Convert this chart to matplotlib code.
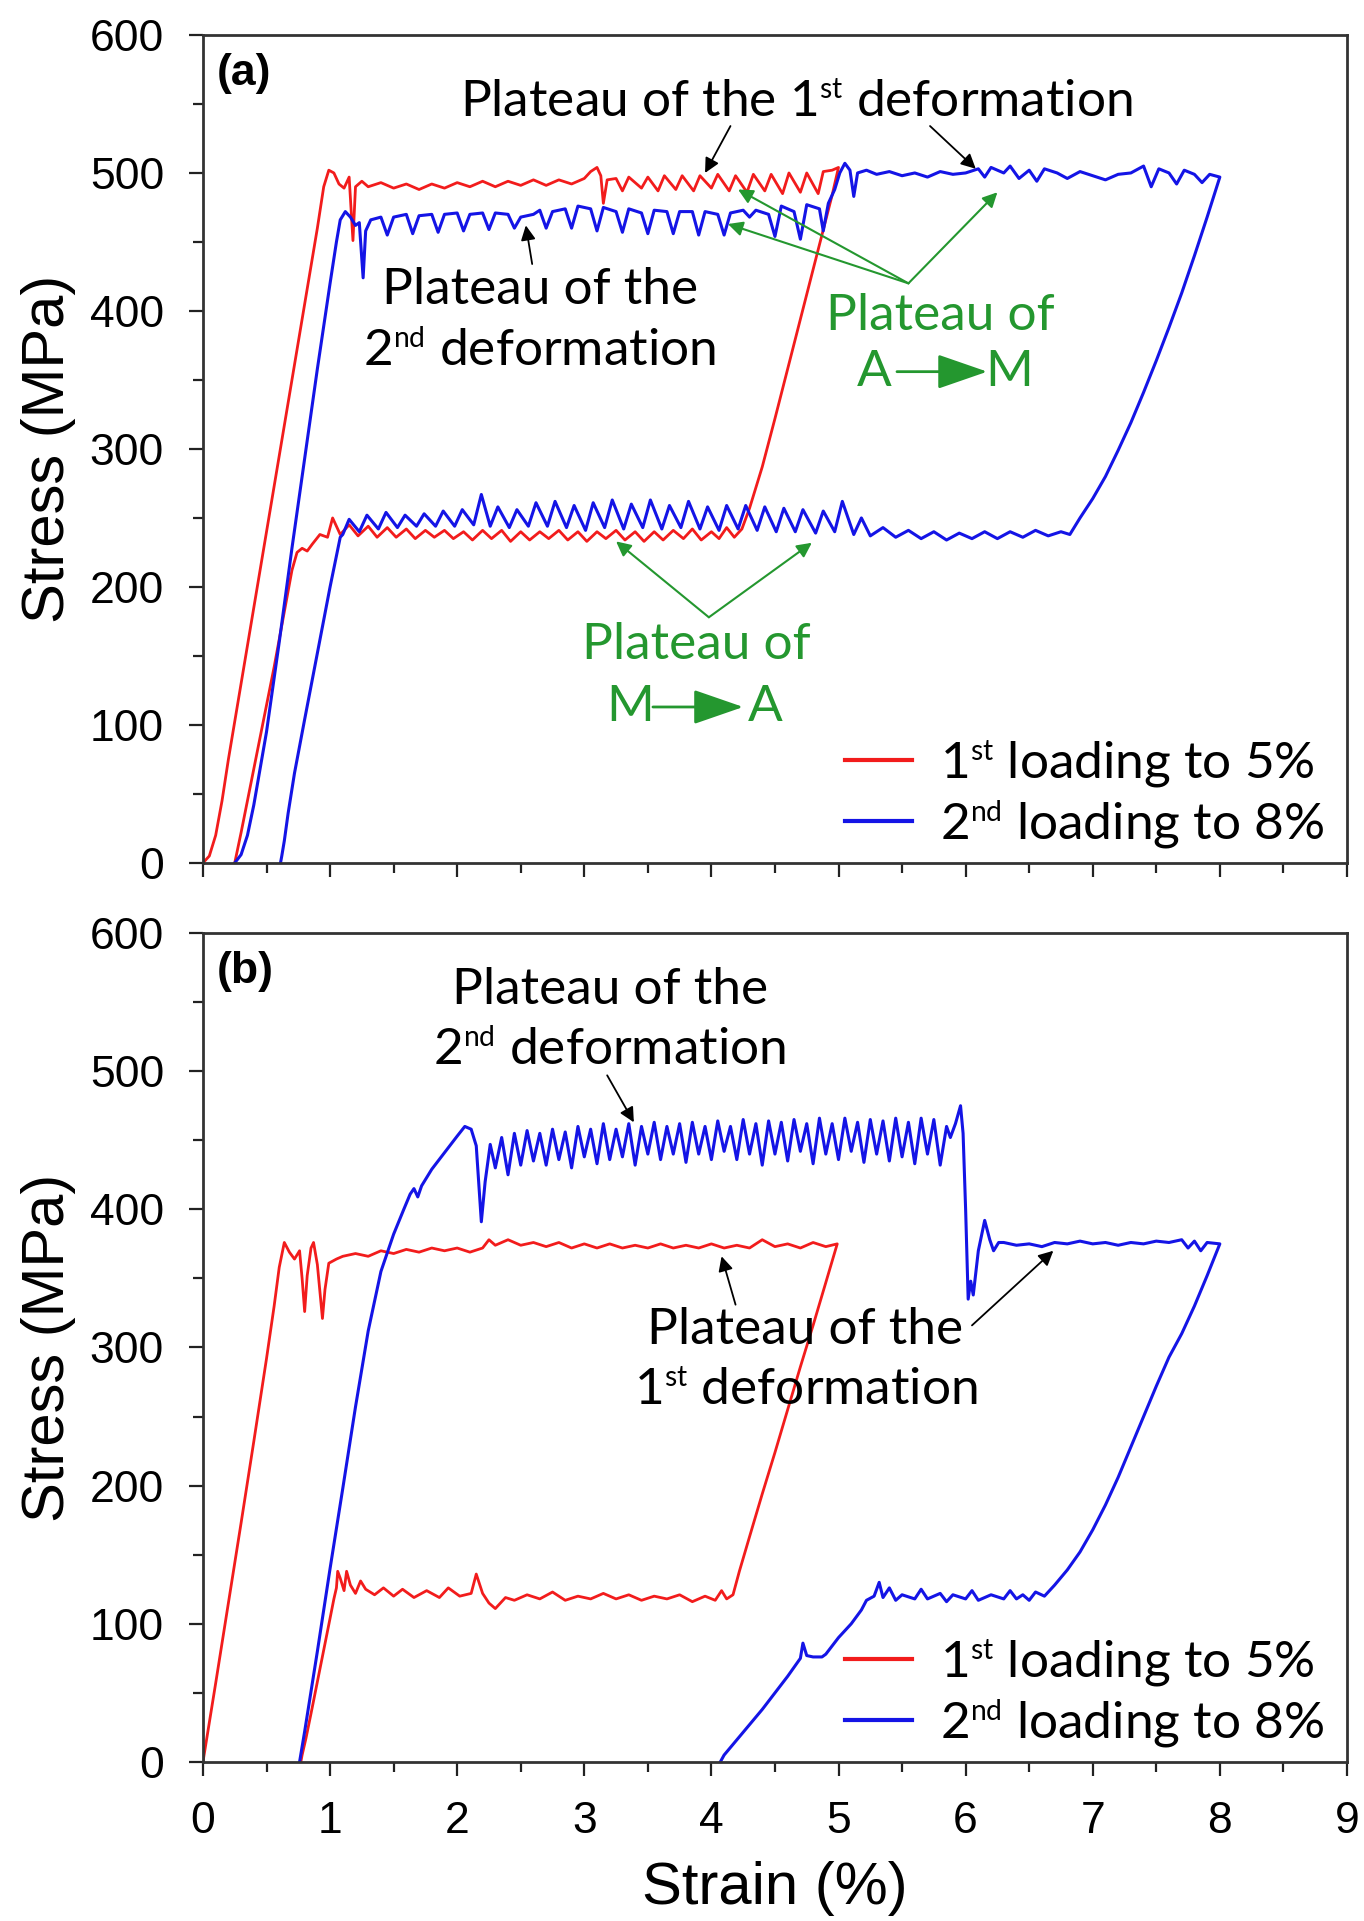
import matplotlib
matplotlib.use("Agg")
import matplotlib.pyplot as plt
from matplotlib.lines import Line2D
from matplotlib.ticker import MultipleLocator

# smaller superscripts ("1st", "2nd") like the original figure
try:
    import matplotlib._mathtext as _mt
    _mt.SHRINK_FACTOR = 0.55
except Exception:
    pass

# ---- panel (a): 1st loading to 5% (red) ----
a_red_strain = [0.00, 0.05, 0.10, 0.15, 0.20, 0.30, 0.40, 0.50, 0.60, 0.70, 0.80, 0.90, 0.95, 0.99, 1.03, 1.07,
                1.11, 1.15, 1.18, 1.20, 1.25,
                1.30, 1.40, 1.50, 1.60, 1.70, 1.80, 1.90, 2.00, 2.10, 2.20, 2.30, 2.40, 2.50, 2.60, 2.70, 2.80,
                2.90, 3.00, 3.05, 3.10, 3.13, 3.15, 3.18,
                3.25, 3.30, 3.35, 3.45, 3.50, 3.58, 3.63, 3.72, 3.77, 3.86, 3.91, 4.00, 4.05, 4.14, 4.19, 4.28,
                4.33, 4.42, 4.47, 4.56, 4.61, 4.70, 4.75, 4.84, 4.88, 4.95, 5.00,
                4.95, 4.90, 4.80, 4.70, 4.60, 4.50, 4.40, 4.30, 4.24,
                4.18, 4.12, 4.06, 4.00, 3.92, 3.85, 3.78, 3.70, 3.62, 3.55, 3.47, 3.40, 3.32, 3.25, 3.17, 3.10,
                3.02, 2.95, 2.87, 2.80, 2.72, 2.65, 2.57, 2.50, 2.42, 2.35, 2.27, 2.20, 2.12, 2.05, 1.97, 1.90,
                1.82, 1.75, 1.67, 1.60, 1.52, 1.45, 1.37, 1.30, 1.22, 1.15, 1.08, 1.02, 0.98, 0.92, 0.86, 0.82,
                0.78, 0.74,
                0.70, 0.64, 0.56, 0.48, 0.40, 0.34, 0.30, 0.27, 0.25]
a_red_stress = [0, 5, 20, 45, 75, 130, 185, 240, 295, 350, 405, 460, 490, 502, 500, 492,
                489, 497, 451, 490, 494,
                490, 493, 489, 492, 488, 492, 489, 493, 490, 494, 490, 494, 491, 495, 491, 495,
                492, 496, 501, 504, 498, 478, 495,
                496, 487, 497, 489, 497, 487, 498, 488, 498, 487, 498, 489, 499, 487, 498, 486,
                499, 487, 499, 485, 500, 486, 500, 485, 501, 502, 504,
                484, 466, 430, 394, 358, 322, 287, 257, 242,
                236, 243, 235, 240, 234, 242, 235, 241, 234, 240, 233, 240, 234, 241, 235, 240,
                233, 240, 234, 241, 235, 240, 234, 240, 233, 241, 235, 241, 234, 240, 235, 241,
                236, 241, 235, 242, 236, 243, 236, 244, 237, 245, 238, 250, 236, 238, 231, 226,
                228, 225,
                212, 182, 142, 105, 68, 40, 22, 9, 0]

# ---- panel (a): 2nd loading to 8% (blue) ----
a_blue_strain = [0.25, 0.30, 0.35, 0.40, 0.50, 0.60, 0.70, 0.80, 0.90, 1.00, 1.05, 1.08, 1.12, 1.16, 1.20, 1.23,
                 1.26, 1.28, 1.32,
                 1.40, 1.45, 1.50, 1.60, 1.65, 1.70, 1.80, 1.85, 1.90, 2.00, 2.05, 2.10, 2.20, 2.25, 2.30, 2.40,
                 2.45, 2.50, 2.60, 2.65, 2.70, 2.75, 2.85, 2.90, 2.95, 3.05, 3.10, 3.15, 3.25, 3.30, 3.35, 3.45,
                 3.50, 3.55, 3.65, 3.70, 3.75, 3.85, 3.90, 3.95, 4.05, 4.10, 4.15, 4.25, 4.30, 4.35, 4.45, 4.50,
                 4.55, 4.65, 4.70, 4.75, 4.85, 4.88, 4.92, 4.97, 5.01, 5.05, 5.09, 5.12, 5.15,
                 5.22, 5.30, 5.40, 5.50, 5.60, 5.70, 5.80, 5.90, 6.00, 6.10, 6.15, 6.20, 6.30, 6.35, 6.42, 6.50,
                 6.56, 6.62, 6.72, 6.80, 6.90, 7.00, 7.10, 7.20, 7.30, 7.40, 7.46, 7.52, 7.60, 7.66, 7.72, 7.80,
                 7.86, 7.92, 8.00,
                 7.90, 7.80, 7.70, 7.60, 7.50, 7.40, 7.30, 7.20, 7.10, 7.00, 6.90, 6.82,
                 6.75, 6.65, 6.55, 6.45, 6.35, 6.25, 6.15, 6.05, 5.95, 5.85, 5.75, 5.65, 5.55, 5.45, 5.35, 5.25,
                 5.18, 5.12, 5.03, 4.97, 4.88, 4.82, 4.72, 4.66, 4.57, 4.51, 4.42, 4.36, 4.27, 4.21, 4.12, 4.06,
                 3.97, 3.91, 3.82, 3.76, 3.67, 3.61, 3.52, 3.46, 3.37, 3.31, 3.22, 3.16, 3.07, 3.01, 2.92, 2.86,
                 2.77, 2.71, 2.62, 2.56, 2.47, 2.41, 2.32, 2.26, 2.19, 2.13, 2.04, 1.98, 1.89, 1.83, 1.74, 1.68,
                 1.59, 1.53, 1.44, 1.38, 1.29, 1.23, 1.15, 1.10, 1.08,
                 1.00, 0.90, 0.80, 0.72, 0.67, 0.64, 0.62, 0.61]
a_blue_stress = [0, 6, 20, 42, 95, 160, 228, 293, 358, 420, 450, 466, 472, 468, 462, 464,
                 424, 458, 466,
                 468, 455, 468, 470, 456, 469, 470, 457, 470, 471, 458, 470, 471, 459, 471, 470,
                 460, 468, 470, 473, 460, 472, 474, 460, 476, 474, 458, 475, 472, 457, 474, 471,
                 456, 473, 472, 456, 472, 472, 455, 472, 470, 455, 471, 473, 468, 473, 470, 454,
                 476, 472, 452, 477, 474, 458, 478, 488, 500, 507, 502, 483, 500,
                 502, 499, 501, 498, 500, 497, 501, 499, 500, 503, 497, 504, 500, 505, 496, 502,
                 494, 503, 500, 496, 501, 498, 495, 499, 500, 505, 490, 503, 500, 492, 502, 499,
                 493, 499, 497,
                 468, 440, 413, 388, 364, 341, 319, 299, 280, 264, 250, 238,
                 240, 237, 241, 236, 240, 235, 240, 235, 239, 234, 240, 235, 241, 236, 243, 237,
                 250, 238, 262, 240, 255, 239, 256, 240, 257, 240, 258, 241, 259, 242, 259, 241,
                 258, 242, 262, 243, 259, 242, 263, 243, 260, 242, 263, 243, 261, 241, 259, 243,
                 262, 244, 261, 244, 256, 243, 258, 244, 267, 245, 256, 244, 255, 244, 253, 244,
                 252, 243, 254, 242, 252, 240, 249, 238, 236,
                 200, 152, 104, 65, 36, 16, 5, 0]

# ---- panel (b): 1st loading to 5% (red) ----
b_red_strain = [0.00, 0.10, 0.20, 0.30, 0.40, 0.50, 0.56, 0.60, 0.64, 0.68, 0.72, 0.76, 0.78, 0.80, 0.82, 0.85,
                0.87, 0.90, 0.94, 0.96, 0.99, 1.05,
                1.10, 1.20, 1.30, 1.40, 1.50, 1.60, 1.70, 1.80, 1.90, 2.00, 2.10, 2.20, 2.25, 2.30, 2.40, 2.50,
                2.60, 2.70, 2.80, 2.90, 3.00, 3.10, 3.20, 3.30, 3.40, 3.50, 3.60, 3.70, 3.80, 3.90, 4.00, 4.10,
                4.20, 4.30, 4.40, 4.50, 4.60, 4.70, 4.80, 4.90, 4.99,
                4.90, 4.80, 4.70, 4.60, 4.50, 4.40, 4.30, 4.22, 4.17,
                4.12, 4.08, 4.03, 3.95, 3.85, 3.75, 3.65, 3.55, 3.45, 3.35, 3.25, 3.15, 3.05, 2.95, 2.85, 2.75,
                2.65, 2.55, 2.45, 2.38, 2.30, 2.25, 2.20, 2.15, 2.11, 2.02, 1.93, 1.86, 1.76, 1.66, 1.57, 1.50,
                1.42, 1.35, 1.28, 1.24, 1.20, 1.16, 1.13, 1.11, 1.08, 1.06, 1.05,
                1.03, 1.00, 0.95, 0.90, 0.85, 0.81, 0.78, 0.77]
b_red_stress = [0, 57, 115, 173, 232, 292, 330, 358, 376, 369, 364, 370, 350, 326, 352, 372,
                376, 360, 321, 342, 361, 364,
                366, 368, 366, 370, 368, 371, 369, 372, 370, 372, 369, 372, 378, 374, 378, 374,
                376, 373, 376, 372, 375, 372, 375, 372, 374, 372, 375, 372, 374, 372, 375, 372,
                374, 372, 378, 373, 375, 372, 376, 373, 375,
                347, 316, 286, 255, 224, 194, 163, 138, 121,
                118, 124, 117, 120, 116, 121, 118, 120, 117, 121, 118, 122, 118, 120, 117, 123,
                118, 121, 117, 119, 111, 115, 122, 136, 122, 120, 126, 119, 124, 119, 125, 120,
                126, 121, 125, 131, 122, 128, 138, 124, 133, 138, 126,
                118, 104, 81, 58, 35, 17, 5, 0]

# ---- panel (b): 2nd loading to 8% (blue) ----
b_blue_strain = [0.76, 0.80, 0.90, 1.00, 1.10, 1.20, 1.30, 1.40, 1.50, 1.58, 1.63, 1.66, 1.69, 1.72, 1.80, 1.90,
                 2.00, 2.06, 2.11, 2.15, 2.19, 2.22, 2.26,
                 2.30, 2.35, 2.40, 2.45, 2.50, 2.55, 2.60, 2.65, 2.70, 2.75, 2.80, 2.85, 2.90, 2.95, 3.00, 3.05,
                 3.10, 3.15, 3.20, 3.25, 3.30, 3.35, 3.40, 3.45, 3.50, 3.55, 3.60, 3.65, 3.70, 3.75, 3.80, 3.85,
                 3.90, 3.95, 4.00, 4.05, 4.10, 4.15, 4.20, 4.25, 4.30, 4.35, 4.40, 4.45, 4.50, 4.55, 4.60, 4.65,
                 4.70, 4.75, 4.80, 4.85, 4.90, 4.95, 5.00, 5.05, 5.10, 5.15, 5.20, 5.25, 5.30, 5.35, 5.40, 5.45,
                 5.50, 5.55, 5.60, 5.65, 5.70, 5.75, 5.80, 5.85, 5.88, 5.92, 5.96, 5.98, 6.00, 6.02, 6.04, 6.06,
                 6.10, 6.15, 6.19, 6.22, 6.26,
                 6.30, 6.40, 6.50, 6.60, 6.70, 6.80, 6.90, 7.00, 7.10, 7.20, 7.30, 7.40, 7.50, 7.60, 7.70, 7.75,
                 7.80, 7.85, 7.90, 8.00,
                 7.90, 7.80, 7.70, 7.60, 7.50, 7.40, 7.30, 7.20, 7.10, 7.00, 6.90, 6.80, 6.70, 6.62,
                 6.55, 6.50, 6.45, 6.40, 6.35, 6.30, 6.20, 6.10, 6.05, 6.00, 5.90, 5.85, 5.80, 5.70, 5.65, 5.60,
                 5.50, 5.45, 5.40, 5.35, 5.32, 5.28, 5.22,
                 5.18, 5.10, 5.00, 4.95, 4.90, 4.87, 4.80, 4.75, 4.72, 4.70, 4.60, 4.50, 4.40, 4.30, 4.20, 4.10,
                 4.07]
b_blue_stress = [0, 22, 80, 140, 198, 257, 312, 355, 382, 400, 411, 415, 409, 417, 429, 441,
                 453, 460, 458, 446, 391, 420, 447,
                 430, 452, 425, 455, 432, 457, 435, 455, 432, 458, 436, 456, 430, 460, 438, 458,
                 433, 462, 436, 458, 438, 462, 432, 460, 440, 463, 436, 460, 440, 462, 434, 463,
                 440, 460, 436, 464, 442, 460, 436, 465, 440, 462, 432, 464, 440, 463, 435, 465,
                 442, 462, 433, 466, 440, 462, 436, 466, 442, 463, 434, 465, 440, 464, 435, 466,
                 438, 463, 433, 466, 440, 465, 432, 460, 452, 462, 475, 455, 400, 335, 348, 338,
                 370, 392, 378, 370, 376,
                 376, 374, 375, 373, 376, 375, 377, 375, 376, 374, 376, 375, 377, 376, 378, 372,
                 377, 370, 376, 375,
                 352, 330, 310, 293, 272, 250, 228, 206, 186, 168, 152, 139, 128, 120,
                 123, 117, 121, 118, 124, 118, 121, 117, 124, 118, 121, 116, 122, 118, 125, 118,
                 121, 117, 126, 119, 130, 120, 117,
                 110, 100, 90, 84, 78, 76, 76, 77, 86, 75, 62, 50, 38, 27, 16, 5,
                 0]

legend_labels = ['1$^{\\mathrm{st}}$ loading to 5%', '2$^{\\mathrm{nd}}$ loading to 8%']

plt.rcParams['font.family'] = ['Liberation Sans', 'DejaVu Sans']
plt.rcParams['mathtext.fontset'] = 'custom'
plt.rcParams['mathtext.rm'] = 'Lato'
plt.rcParams['mathtext.it'] = 'Lato:italic'
plt.rcParams['mathtext.bf'] = 'Lato:bold'

RED = '#f21c1c'
BLUE = '#1414e6'
GREEN = '#24972f'
ANN_FONT = 'Lato'
ANN_SIZE = 37

fig = plt.figure(figsize=(13.64, 19.21), dpi=100)
ax_a = fig.add_axes([0.1488, 0.5508, 0.8387, 0.4310])
ax_b = fig.add_axes([0.1488, 0.0828, 0.8387, 0.4315])


def style_axes(ax, show_xlabels):
    ax.set_xlim(0, 9)
    ax.set_ylim(0, 600)
    ax.xaxis.set_major_locator(MultipleLocator(1))
    ax.xaxis.set_minor_locator(MultipleLocator(0.5))
    ax.yaxis.set_major_locator(MultipleLocator(100))
    ax.yaxis.set_minor_locator(MultipleLocator(50))
    ax.tick_params(which='both', direction='out', top=False, right=False, width=1.6,
                   labelsize=32, pad=18, color='#222222')
    ax.tick_params(which='major', length=10)
    ax.tick_params(which='minor', length=7)
    for s in ax.spines.values():
        s.set_linewidth(2)
        s.set_color('#333333')
    ax.set_ylabel('Stress (MPa)', fontsize=43, labelpad=10)
    if not show_xlabels:
        ax.tick_params(labelbottom=False)


def note(ax, text, x, y, color='black'):
    ax.text(x, y, text, ha='center', va='center', fontsize=ANN_SIZE, family=ANN_FONT, color=color)


def arrow(ax, start, end, color='black', lw=1.3, scale=22):
    ax.annotate('', xy=end, xytext=start,
                arrowprops=dict(arrowstyle='-|>', color=color, lw=lw, mutation_scale=scale,
                                shrinkA=0, shrinkB=0))


def big_arrow_text(ax, left, right, cx, y):
    # "A -> M" style label with a filled arrow head
    ax.text(cx - 0.52, y, left, ha='center', va='center', fontsize=ANN_SIZE, family=ANN_FONT, color=GREEN)
    ax.text(cx + 0.54, y, right, ha='center', va='center', fontsize=ANN_SIZE, family=ANN_FONT, color=GREEN)
    ax.annotate('', xy=(cx + 0.37, y), xytext=(cx - 0.34, y),
                arrowprops=dict(arrowstyle='-|>,head_length=1.3,head_width=0.45', color=GREEN,
                                lw=2, mutation_scale=24, shrinkA=0, shrinkB=0))


def add_legend(ax):
    handles = [Line2D([], [], color=RED, lw=3), Line2D([], [], color=BLUE, lw=3)]
    ax.legend(handles, legend_labels, loc='lower right', frameon=False,
              prop={'family': ANN_FONT, 'size': ANN_SIZE}, handlelength=1.3,
              handletextpad=0.55, labelspacing=0.15, borderaxespad=0.0,
              bbox_to_anchor=(0.998, -0.01))


# ---------- panel (a) ----------
ax = ax_a
ax.plot(a_red_strain, a_red_stress, color=RED, lw=2)
ax.plot(a_blue_strain, a_blue_stress, color=BLUE, lw=2.2)
style_axes(ax, False)
ax.text(0.012, 0.978, '(a)', transform=ax.transAxes, ha='left', va='top', fontsize=32, fontweight='bold')

note(ax, 'Plateau of the 1$^{\\mathrm{st}}$ deformation', 4.67, 551)
arrow(ax, (4.15, 534), (3.95, 500))
arrow(ax, (5.72, 534), (6.08, 503))

note(ax, 'Plateau of the', 2.65, 415)
note(ax, '2$^{\\mathrm{nd}}$ deformation', 2.65, 371)
arrow(ax, (2.59, 434), (2.54, 462))

note(ax, 'Plateau of', 5.80, 396, GREEN)
big_arrow_text(ax, 'A', 'M', 5.80, 356)
arrow(ax, (5.55, 420), (4.21, 488), GREEN, 1.5)
arrow(ax, (5.55, 420), (4.13, 463), GREEN, 1.5)
arrow(ax, (5.55, 420), (6.25, 486), GREEN, 1.5)

note(ax, 'Plateau of', 3.88, 158, GREEN)
big_arrow_text(ax, 'M', 'A', 3.88, 113)
arrow(ax, (3.98, 178), (3.25, 233), GREEN, 1.5)
arrow(ax, (3.98, 178), (4.79, 232), GREEN, 1.5)

add_legend(ax)

# ---------- panel (b) ----------
ax = ax_b
ax.plot(b_red_strain, b_red_stress, color=RED, lw=2)
ax.plot(b_blue_strain, b_blue_stress, color=BLUE, lw=2.2)
style_axes(ax, True)
ax.set_xlabel('Strain (%)', fontsize=43, labelpad=14)
ax.text(0.012, 0.978, '(b)', transform=ax.transAxes, ha='left', va='top', fontsize=32, fontweight='bold')

note(ax, 'Plateau of the', 3.20, 559)
note(ax, '2$^{\\mathrm{nd}}$ deformation', 3.20, 515)
arrow(ax, (3.18, 497), (3.39, 463))

note(ax, 'Plateau of the', 4.74, 313)
note(ax, '1$^{\\mathrm{st}}$ deformation', 4.74, 269)
arrow(ax, (4.19, 331), (4.08, 366))
arrow(ax, (6.05, 316), (6.69, 370))

add_legend(ax)

fig.savefig('out.png', dpi=100)
